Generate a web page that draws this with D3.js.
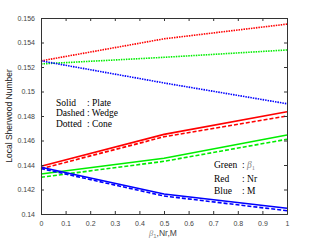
<!DOCTYPE html>
<html>
<head>
<meta charset="utf-8">
<script src="https://cdn.jsdelivr.net/npm/d3@7"></script>
<style>
  body { margin: 0; background: #fff; }
</style>
</head>
<body>
<script>
var xs = [0, 0.5, 1];

// Plate (solid), Wedge (dashed), Cone (dotted) for beta1 (green), Nr (red), M (blue)
var redSolid    = [0.1439, 0.1465, 0.14835];
var redDashed   = [0.1437, 0.1463, 0.1480];
var redDotted   = [0.1525, 0.1543, 0.1555];
var greenSolid  = [0.14327, 0.14455, 0.14645];
var greenDashed = [0.1430, 0.1443, 0.1461];
var greenDotted = [0.15225, 0.15279, 0.15339];
var blueSolid   = [0.14381, 0.14163, 0.14047];
var blueDashed  = [0.14371, 0.14147, 0.14027];
var blueDotted  = [0.1525, 0.1507, 0.1490];

var xTicks = d3.range(0, 11).map(function(i) { return i / 10; });
var yTicks = d3.range(0, 9).map(function(i) { return 0.14 + i * 0.002; });

var styleNames = ["Solid", "Dashed", "Dotted"];
var styleValues = ["Plate", "Wedge", "Cone"];
var colorNames = ["Green", "Red", "Blue"];
var colorValues = ["β1", "Nr", "M"];

function main() {
    var width = 318, height = 244;
    var left = 41, right = 287, top = 18, bottom = 214;

    var svg = d3.select("body").append("svg")
        .attr("width", width).attr("height", height);

    var x = d3.scaleLinear().domain([0, 1]).range([left, right]);
    var y = d3.scaleLinear().domain([0.14, 0.156]).range([bottom, top]);

    var series = [
        { v: redSolid, c: "#ff0000", d: null },
        { v: redDashed, c: "#ff0000", d: "4,2" },
        { v: redDotted, c: "#ff0000", d: "1.5,1" },
        { v: greenSolid, c: "#00ee00", d: null },
        { v: greenDashed, c: "#00ee00", d: "4,2" },
        { v: greenDotted, c: "#00ee00", d: "1.5,1" },
        { v: blueSolid, c: "#0000ff", d: null },
        { v: blueDashed, c: "#0000ff", d: "4,2" },
        { v: blueDotted, c: "#0000ff", d: "1.5,1" }
    ];

    var line = d3.line()
        .x(function(d, i) { return x(xs[i]); })
        .y(function(d) { return y(d); });

    svg.selectAll("path.series")
        .data(series)
        .enter()
        .append("path")
        .attr("class", "series")
        .attr("d", function(s) { return line(s.v); })
        .attr("fill", "none")
        .attr("stroke", function(s) { return s.c; })
        .attr("stroke-width", 1.6)
        .attr("stroke-dasharray", function(s) { return s.d; });

    // axes, ticks inward on all sides
    var fmt = function(d) { return d3.format("")(+d.toFixed(3)); };
    svg.append("g").attr("transform", "translate(0," + bottom + ")")
        .call(d3.axisBottom(x).tickValues(xTicks).tickSize(-3).tickPadding(7).tickFormat(fmt));
    svg.append("g").attr("transform", "translate(0," + top + ")")
        .call(d3.axisTop(x).tickValues(xTicks).tickSize(-3).tickFormat(""));
    svg.append("g").attr("transform", "translate(" + left + ",0)")
        .call(d3.axisLeft(y).tickValues(yTicks).tickSize(-3).tickPadding(6).tickFormat(fmt));
    svg.append("g").attr("transform", "translate(" + right + ",0)")
        .call(d3.axisRight(y).tickValues(yTicks).tickSize(-3).tickFormat(""));

    svg.selectAll(".domain").attr("stroke", "#333").attr("stroke-width", 1);
    svg.selectAll(".tick line").attr("stroke", "#333");
    svg.selectAll(".tick text")
        .attr("font-family", "Liberation Sans, Arial, sans-serif")
        .attr("font-size", "7px")
        .attr("fill", "#444");

    svg.append("text")
        .attr("transform", "translate(12," + ((top + bottom) / 2) + ") rotate(-90)")
        .attr("text-anchor", "middle")
        .attr("font-family", "Liberation Sans, Arial, sans-serif")
        .attr("font-size", "8.5px")
        .attr("fill", "#222")
        .text("Local Sherwood Number");

    var xl = svg.append("text")
        .attr("x", 149).attr("y", 236)
        .attr("font-family", "Liberation Sans, Arial, sans-serif")
        .attr("font-size", "8.5px")
        .attr("fill", "#444");
    xl.append("tspan").attr("font-family", "Liberation Serif, serif").attr("font-style", "italic").attr("fill", "#888").text("β");
    xl.append("tspan").attr("font-size", "6px").attr("dy", 2).attr("fill", "#888").text("1");
    xl.append("tspan").attr("dy", -2).text(",Nr,M");

    var serif = "Liberation Serif, Times New Roman, serif";

    // line style legend
    var l1 = svg.append("g").attr("font-family", serif).attr("font-size", "9.5px");
    styleNames.forEach(function(n, i) {
        var yy = 105.5 + i * 10.5;
        l1.append("text").attr("x", 56).attr("y", yy).text(n);
        l1.append("text").attr("x", 87).attr("y", yy).text(": " + styleValues[i]);
    });

    // colour legend
    var l2 = svg.append("g").attr("font-family", serif).attr("font-size", "9.5px");
    var rowY = [167.5, 181.5, 193.5];
    colorNames.forEach(function(n, i) {
        l2.append("text").attr("x", 214).attr("y", rowY[i]).text(n);
        var t = l2.append("text").attr("x", 242).attr("y", rowY[i]);
        t.append("tspan").text(": ");
        if (colorValues[i] === "β1") {
            t.append("tspan").attr("font-style", "italic").attr("fill", "#888").text("β");
            t.append("tspan").attr("font-size", "6.5px").attr("dy", 2).attr("fill", "#888").text("1");
        } else {
            t.append("tspan").text(colorValues[i]);
        }
    });
}

window.onload = main;
</script>
</body>
</html>
